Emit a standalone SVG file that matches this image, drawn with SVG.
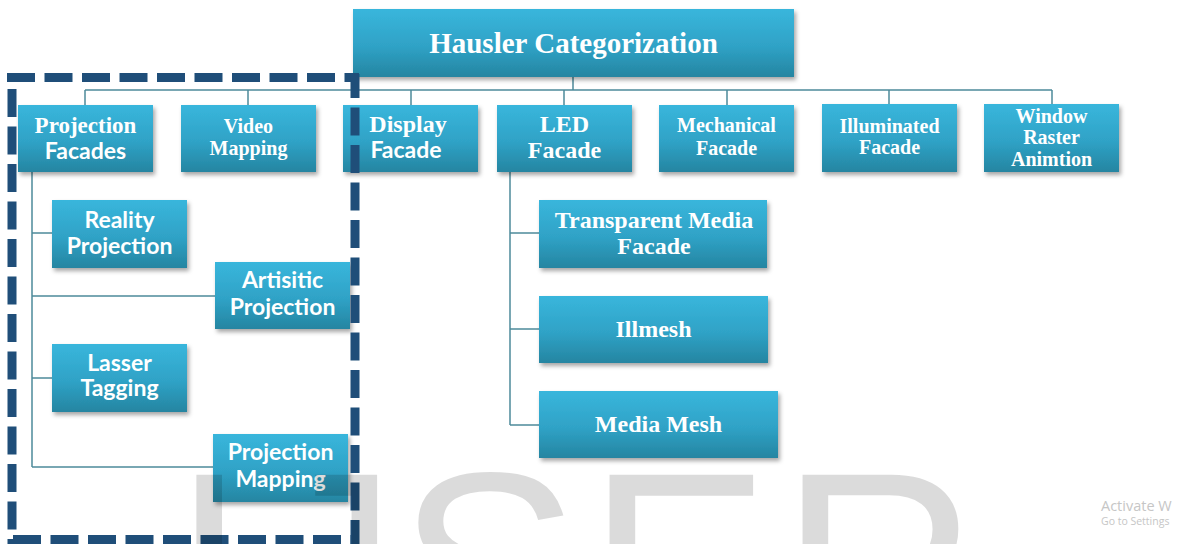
<svg xmlns="http://www.w3.org/2000/svg" width="1178" height="544" viewBox="0 0 1178 544">
<defs>
<linearGradient id="g" x1="0" y1="0" x2="0" y2="1">
<stop offset="0" stop-color="#39b6dc"/>
<stop offset="0.55" stop-color="#2fa2c6"/>
<stop offset="1" stop-color="#2585a1"/>
</linearGradient>
<filter id="sh" x="-10%" y="-10%" width="125%" height="135%">
<feDropShadow dx="2" dy="3" stdDeviation="2" flood-color="#000" flood-opacity="0.35"/>
</filter>
<style>
.box{fill:url(#g);filter:url(#sh);}
.t{fill:#fff;text-anchor:middle;}
.serif{font-family:"Liberation Serif","Times New Roman",serif;font-weight:bold;}
.sans{font-family:Lato,"Liberation Sans",sans-serif;font-weight:bold;}
.con{fill:none;stroke:#4d8b9b;stroke-width:1.5;}
.dash{stroke:#1f4e79;stroke-width:9;stroke-dasharray:28 9.5;fill:none;}
.wm{font-family:"Liberation Sans",Arial,sans-serif;font-size:275px;fill:#000;fill-opacity:0.14;}
.act{font-family:"Open Sans","Liberation Sans",sans-serif;fill:#c6c6c6;}
</style>
</defs>
<rect width="1178" height="544" fill="#fff"/>

<g id="connectors">
<path class="con" d="M573 77V90M85 90H1052M85 90V105M248 90V105M411 90V105M564 90V105M727 90V105M889 90V104M1052 90V104"/>
<path class="con" d="M32 172V467M32 233H52M32 296H215M32 378H52M32 467H213"/>
<path class="con" d="M510 172V425M510 233H539M510 329H539M510 425H539"/>
</g>

<g id="n-hausler">
<rect class="box" x="353" y="9" width="441" height="68"/>
<text class="t serif" x="573.5" y="53" font-size="29">Hausler Categorization</text>
</g>

<g id="n-projection-facades">
<rect class="box" x="18" y="105" width="135" height="67"/>
<text class="t serif" x="85.5" y="133" font-size="23">Projection</text>
<text class="t sans" x="85.5" y="159" font-size="23">Facades</text>
</g>

<g id="n-video-mapping">
<rect class="box" x="181" y="105" width="135" height="67"/>
<text class="t serif" x="248.5" y="133" font-size="20">Video</text>
<text class="t serif" x="248.5" y="155" font-size="20">Mapping</text>
</g>

<g id="n-display-facade">
<rect class="box" x="343" y="105" width="135" height="67"/>
<text class="t serif" x="408" y="132" font-size="24">Display</text>
<text class="t sans" x="406" y="158" font-size="23">Facade</text>
</g>

<g id="n-led-facade">
<rect class="box" x="497" y="105" width="135" height="67"/>
<text class="t serif" x="564.5" y="132" font-size="24">LED</text>
<text class="t serif" x="564.5" y="158" font-size="24">Facade</text>
</g>

<g id="n-mechanical-facade">
<rect class="box" x="659" y="105" width="135" height="67"/>
<text class="t serif" x="726.5" y="132" font-size="20">Mechanical</text>
<text class="t serif" x="726.5" y="155" font-size="20">Facade</text>
</g>

<g id="n-illuminated-facade">
<rect class="box" x="822" y="104" width="135" height="68"/>
<text class="t serif" x="889.5" y="133" font-size="20">Illuminated</text>
<text class="t serif" x="889.5" y="154" font-size="20">Facade</text>
</g>

<g id="n-window-raster">
<rect class="box" x="984" y="104" width="135" height="68"/>
<text class="t serif" x="1051.5" y="123" font-size="20">Window</text>
<text class="t serif" x="1051.5" y="144" font-size="20">Raster</text>
<text class="t serif" x="1051.5" y="166" font-size="20">Animtion</text>
</g>

<g id="n-reality-projection">
<rect class="box" x="52" y="200" width="135" height="68"/>
<text class="t sans" x="119.5" y="228" font-size="23">Reality</text>
<text class="t sans" x="119.5" y="254" font-size="23">Projection</text>
</g>

<g id="n-artisitic-projection">
<rect class="box" x="215" y="262" width="135" height="67"/>
<text class="t sans" x="282.5" y="288" font-size="23">Artisitic</text>
<text class="t sans" x="282.5" y="315" font-size="23">Projection</text>
</g>

<g id="n-lasser-tagging">
<rect class="box" x="52" y="344" width="135" height="68"/>
<text class="t sans" x="119.5" y="371" font-size="23">Lasser</text>
<text class="t sans" x="119.5" y="396" font-size="23">Tagging</text>
</g>

<g id="n-projection-mapping">
<rect class="box" x="213" y="434" width="135" height="68"/>
<text class="t sans" x="280.5" y="460" font-size="23">Projection</text>
<text class="t sans" x="280.5" y="487" font-size="23">Mapping</text>
</g>

<g id="n-transparent-media">
<rect class="box" x="539" y="200" width="228" height="68"/>
<text class="t serif" x="654" y="228" font-size="24">Transparent Media</text>
<text class="t serif" x="654" y="254" font-size="24">Facade</text>
</g>

<g id="n-illmesh">
<rect class="box" x="539" y="296" width="229" height="67"/>
<text class="t serif" x="653.5" y="337" font-size="24">Illmesh</text>
</g>

<g id="n-media-mesh">
<rect class="box" x="539" y="391" width="239" height="67"/>
<text class="t serif" x="658.5" y="432" font-size="24">Media Mesh</text>
</g>

<g id="dashed-frame">
<path class="dash" d="M7 77.5H359"/>
<path class="dash" d="M12 89V544"/>
<path class="dash" d="M355 74V544" style="stroke-dashoffset:4"/>
<path class="dash" d="M13 539.5H359"/>
</g>

<text class="wm" x="171 260 397 587 780" y="664">IJSER</text>

<text class="act" x="1101" y="511" font-size="14.5">Activate W</text>
<text class="act" x="1101" y="525" font-size="10.5">Go to Settings</text>
</svg>
